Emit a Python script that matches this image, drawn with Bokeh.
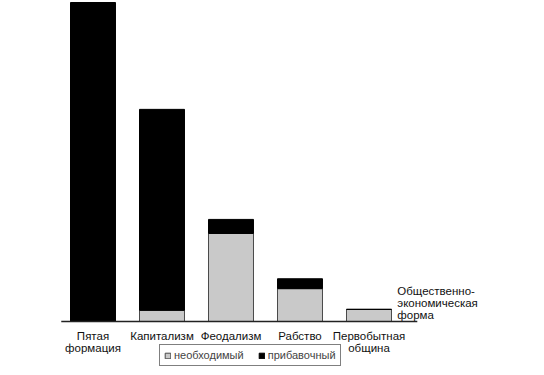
from bokeh.plotting import figure
from bokeh.models import ColumnDataSource, Range1d, Legend, LegendItem
from bokeh.core.properties import value
from bokeh.embed import file_html
from bokeh.resources import INLINE

categories = ["Пятая\nформация", "Капитализм", "Феодализм", "Рабство", "Первобытная\nобщина"]
necessary = [0, 3.5, 27.6, 10.3, 3.8]      # необходимый
surplus = [100, 63.0, 4.4, 3.1, 0]         # прибавочный
series_names = ["необходимый", "прибавочный"]
axis_note = "Общественно-\nэкономическая\nформа"

xs = list(range(len(categories)))
FONT = "Liberation Sans"
PX = 3.19  # pixels per unit (layout)

W, H = 536, 367
BASE = 321
x_start = -92.5 / 69
x_end = x_start + W / 69
y_end = BASE / PX
y_start = -(H - BASE) / PX

p = figure(width=W, height=H, output_backend="svg", toolbar_location=None,
           x_range=Range1d(x_start, x_end), y_range=Range1d(y_start, y_end),
           min_border=0, min_border_left=0, min_border_right=0,
           min_border_top=0, min_border_bottom=0)
p.axis.visible = False
p.grid.visible = False
p.outline_line_color = None

src = ColumnDataSource(dict(x=xs, necessary=necessary, surplus=surplus,
                            label=categories, y0=[0] * len(xs)))

rs = p.vbar_stack(["necessary", "surplus"], x="x", width=0.652, source=src,
                  fill_color=["#c9c9c9", "#000000"],
                  line_color=["#4a4a4a", "#000000"], line_width=1)

# baseline
p.segment(x0=[xs[0] - 0.46], x1=[xs[-1] + 0.70], y0=[0], y1=[0],
          line_color="#222222", line_width=1.5)

# category labels
p.text(x="x", y="y0", text="label", source=src, text_align="center",
       text_baseline="top", y_offset=8, text_font=value(FONT),
       text_font_size="11.5px", text_color="#111111", text_line_height=1.05)

# right-hand note
p.text(x=[xs[-1] + 0.41], y=[0], text=[axis_note], text_align="left",
       text_baseline="bottom", y_offset=-1, text_font=value(FONT),
       text_font_size="11.5px", text_color="#111111", text_line_height=1.0)

legend = Legend(items=[LegendItem(label=series_names[0], renderers=[rs[0]]),
                       LegendItem(label=series_names[1], renderers=[rs[1]])],
                location=(159, 1), orientation="horizontal",
                border_line_color="#000000", border_line_width=1.2,
                background_fill_color="white", background_fill_alpha=1,
                glyph_width=7, glyph_height=7, label_standoff=3, spacing=14,
                padding=4, margin=0, label_text_font=FONT,
                label_text_font_size="11px", label_height=11)
p.add_layout(legend)

open("out.html", "w").write(file_html(p, INLINE))
